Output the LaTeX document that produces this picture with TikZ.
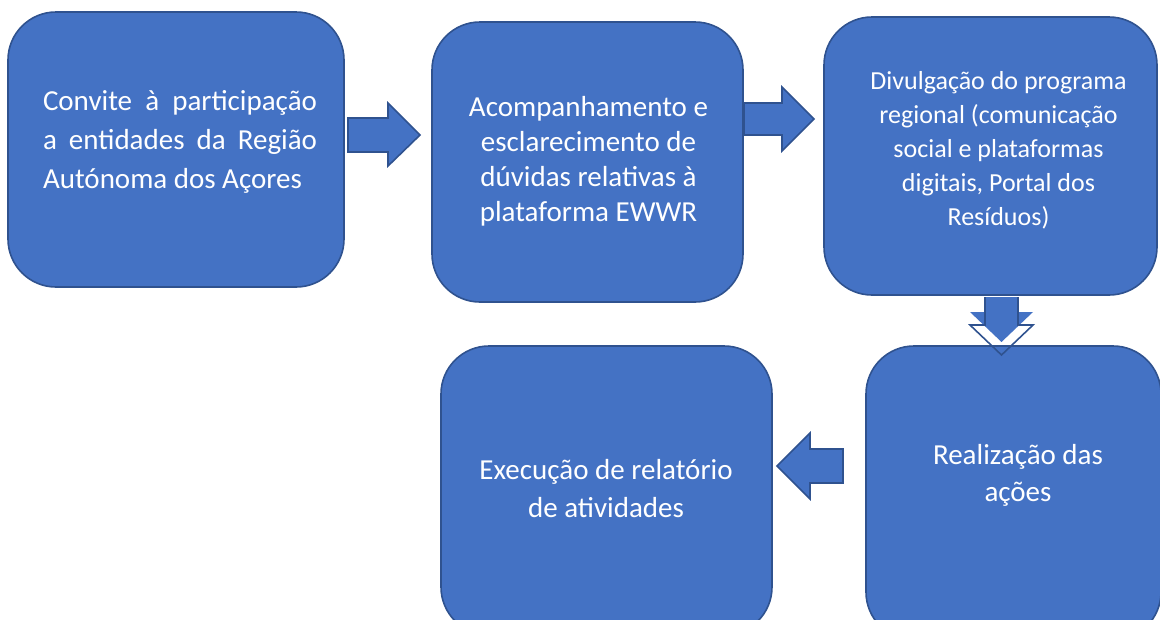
\documentclass[tikz,border=0pt]{standalone}
\usepackage{fontspec}
\setmainfont{Carlito}
\definecolor{boxfill}{HTML}{4472C4}
\definecolor{boxline}{HTML}{2F528F}
\begin{document}
\begin{tikzpicture}[x=0.75pt,y=-0.75pt,
  box/.style={draw=boxline, fill=boxfill, line width=1.2pt, rounded corners=36pt, inner sep=0pt},
  txt/.style={text=white, align=center, inner sep=0pt},
  blk/.style={draw=boxline, fill=boxfill, line width=1.2pt, line join=miter}]
\useasboundingbox (0,0) rectangle (1160,619);
\clip (0,0) rectangle (1160,619);
% boxes
\node[box, minimum width=252pt, minimum height=206.25pt] (b1) at (176,149.5) {};
\node[box, minimum width=233.25pt, minimum height=210pt] (b2) at (587.5,162) {};
\node[box, minimum width=249.75pt, minimum height=208.5pt] (b3) at (990.5,156) {};
\node[box, minimum width=221.25pt, minimum height=220.5pt] (b4) at (1013.5,493) {};
\node[box, minimum width=248.25pt, minimum height=216.75pt] (b5) at (606.5,490.5) {};
% texts
\node[txt, text width=205.5pt, align=justify, font=\fontsize{21.75}{29.25}\selectfont] (t1) at (180,141.5)
  {Convite à participação\linebreak a entidades da Região\linebreak Autónoma dos Açores};
\node[txt, font=\fontsize{21.75}{26.25}\selectfont] (t2) at (588.5,161.5)
  {Acompanhamento e\\esclarecimento de\\dúvidas relativas à\\plataforma EWWR};
\node[txt, font=\fontsize{19.5}{25.5}\selectfont] (t3) at (998.5,150)
  {Divulgação do programa\\regional (comunicação\\social e plataformas\\digitais, Portal dos\\Resíduos)};
\node[txt, font=\fontsize{21.75}{27.75}\selectfont] (t4) at (1018,475.5)
  {Realização das\\ações};
\node[txt, font=\fontsize{21.75}{28.5}\selectfont] (t5) at (606,489)
  {Execução de relatório\\de atividades};
% block arrows
\draw[blk] (348,118) -- (388,118) -- (388,103) -- (420,135) -- (388,166) -- (388,152) -- (348,152) -- cycle;
\draw[blk] (744,103) -- (782,103) -- (782,87) -- (814,119) -- (782,151) -- (782,135) -- (744,135) -- cycle;
\draw[blk] (843,449) -- (810,449) -- (810,433) -- (777,466) -- (810,499) -- (810,483) -- (843,483) -- cycle;
\fill[boxfill] (985,297) -- (985,312) -- (970,312) -- (1001.5,342) -- (1033,312) -- (1018,312) -- (1018,297) -- cycle;
\draw[boxline, line width=1.2pt, line join=miter] (985,297) -- (985,325) -- (970,325) -- (1001.5,355) -- (1033,325) -- (1018,325) -- (1018,297);
\end{tikzpicture}
\end{document}
